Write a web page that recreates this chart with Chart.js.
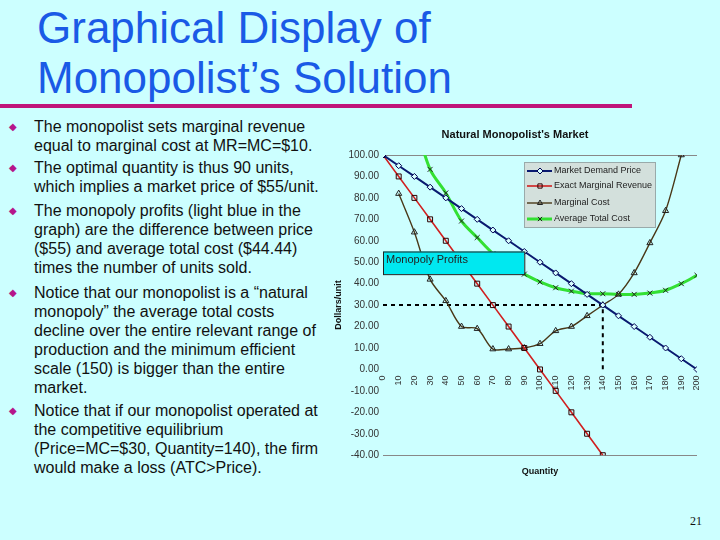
<!DOCTYPE html>
<html>
<head>
<meta charset="utf-8">
<script src="https://cdn.jsdelivr.net/npm/chart.js@4"></script>
<style>
  html, body { margin:0; padding:0; }
  body { width:720px; height:540px; background:#ccffff; position:relative; overflow:hidden; font-family:'Liberation Sans', Arial, sans-serif; }
  #title { position:absolute; left:37px; top:3px; font-size:44px; line-height:50px; color:#1a5ae6; white-space:nowrap; }
  #rule { position:absolute; left:0; top:104px; width:632px; height:4px; background:#c0147a; }
  .b { position:absolute; left:34px; font-size:16px; line-height:19px; color:#111; white-space:nowrap; }
  .d { position:absolute; left:9px; font-size:10px; line-height:10px; color:#b5168a; }
  #pg { position:absolute; left:690px; top:514px; font:12px 'Liberation Serif', serif; color:#111; }
  #chartWrap { position:absolute; left:330px; top:120px; width:372px; height:360px; }
</style>
</head>
<body>
<div id="title">Graphical Display of<br>Monopolist’s Solution</div>
<div id="rule"></div>

<div class="d" style="top:122px">◆</div>
<div class="b" style="top:117px">The monopolist sets marginal revenue<br>equal to marginal cost at MR=MC=$10.</div>
<div class="d" style="top:163px">◆</div>
<div class="b" style="top:158px">The optimal quantity is thus 90 units,<br>which implies a market price of $55/unit.</div>
<div class="d" style="top:206px">◆</div>
<div class="b" style="top:201px">The monopoly profits (light blue in the<br>graph) are the difference between price<br>($55) and average total cost ($44.44)<br>times the number of units sold.</div>
<div class="d" style="top:288px">◆</div>
<div class="b" style="top:283px">Notice that our monopolist is a “natural<br>monopoly” the average total costs<br>decline over the entire relevant range of<br>production and the minimum efficient<br>scale (150) is bigger than the entire<br>market.</div>
<div class="d" style="top:406px">◆</div>
<div class="b" style="top:401px">Notice that if our monopolist operated at<br>the competitive equilibrium<br>(Price=MC=$30, Quantity=140), the firm<br>would make a loss (ATC&gt;Price).</div>

<div id="pg">21</div>

<div id="chartWrap"><canvas id="c" width="372" height="360"></canvas></div>

<script>
// ---- data ----
const quantity = [0,10,20,30,40,50,60,70,80,90,100,110,120,130,140,150,160,170,180,190,200];
const demandPrice = [100,95,90,85,80,75,70,65,60,55,50,45,40,35,30,25,20,15,10,5,0];
const marginalRevenue = [100,90,80,70,60,50,40,30,20,10,0,-10,-20,-30,-40,null,null,null,null,null,null];
const marginalCost = [null,82,64,42,32,20,19,9.5,9.5,10,12,18,20,25,30,35,45,59,74,100,null];
const averageTotalCost = [null,null,116,93.3,82.3,69.2,61.5,54,48.5,44.44,40.8,38.1,36.5,35.3,35.3,35,35,35.6,36.9,40,43.9];
const seriesNames = ['Market Demand Price','Exact Marginal Revenue','Marginal Cost','Average Total Cost'];
const monopolyQty = 90, monopolyPrice = 55, monopolyATC = 44.44;
const compQty = 140, compPrice = 30;
const yMin = -40, yMax = 100, yStep = 10;
const xMin = 0, xMax = 200, xStep = 10;

const pairs = ys => quantity.map((q,i) => ({x:q, y:ys[i]}));

Chart.defaults.font.family = "'Liberation Sans', Arial, sans-serif";

const datasets = [
  { label: seriesNames[0], data: pairs(demandPrice), borderColor:'#0a1a70', borderWidth:2,
    pointStyle:'rectRot', pointRadius:3, pointBorderColor:'#000050', pointBackgroundColor:'#d8ffff', pointBorderWidth:1 },
  { label: seriesNames[1], data: pairs(marginalRevenue), borderColor:'#d02020', borderWidth:1.6,
    pointStyle:'rect', pointRadius:3.5, pointBorderColor:'#300000', pointBackgroundColor:'rgba(0,0,0,0)', pointBorderWidth:1 },
  { label: seriesNames[2], data: pairs(marginalCost), borderColor:'#4a3818', borderWidth:1.4, tension:0.3,
    pointStyle:'triangle', pointRadius:3.5, pointBorderColor:'#222', pointBackgroundColor:'rgba(0,0,0,0)', pointBorderWidth:1 },
  { label: seriesNames[3], data: pairs(averageTotalCost), borderColor:'#33e033', borderWidth:3, tension:0.3,
    pointStyle:'crossRot', pointRadius:3.5, pointBorderColor:'#222', pointBorderWidth:1 },
  { label: 'eq', data: [{x:xMin,y:compPrice},{x:compQty,y:compPrice},{x:compQty,y:0}],
    borderColor:'#000', borderWidth:2, borderDash:[4,4], pointRadius:0 }
];

const overlay = {
  id:'overlay',
  afterDatasetsDraw(chart) {
    const {ctx, scales:{x, y}} = chart;
    // monopoly profits box
    const x0 = x.getPixelForValue(xMin), x1 = x.getPixelForValue(monopolyQty);
    const y0 = y.getPixelForValue(monopolyPrice), y1 = y.getPixelForValue(monopolyATC);
    ctx.save();
    ctx.fillStyle = '#00e8f0';
    ctx.fillRect(x0, y0, x1-x0, y1-y0);
    ctx.strokeStyle = '#222'; ctx.lineWidth = 1;
    ctx.strokeRect(x0+0.5, y0+0.5, x1-x0, y1-y0);
    ctx.fillStyle = '#222'; ctx.font = "11px 'Liberation Sans', Arial";
    ctx.textBaseline = 'middle'; ctx.textAlign = 'left';
    ctx.fillText('Monopoly Profits', x0+3, y0+8);
    // legend box
    const lx = 194, ly = 42, lw = 131, lh = 65;
    ctx.fillStyle = '#d3e0dc';
    ctx.fillRect(lx, ly, lw, lh);
    ctx.strokeStyle = '#9aa'; ctx.strokeRect(lx+0.5, ly+0.5, lw, lh);
    const rows = [51, 66, 83, 99];
    for (let i=0;i<4;i++) {
      const ds = chart.data.datasets[i];
      const ry = rows[i];
      ctx.strokeStyle = ds.borderColor; ctx.lineWidth = ds.borderWidth; ctx.setLineDash([]);
      ctx.beginPath(); ctx.moveTo(lx+3, ry); ctx.lineTo(lx+28, ry); ctx.stroke();
      ctx.strokeStyle = ds.pointBorderColor; ctx.fillStyle = ds.pointBackgroundColor || 'rgba(0,0,0,0)';
      ctx.lineWidth = 1;
      Chart.helpers.drawPoint(ctx, {pointStyle: ds.pointStyle, radius: 3, rotation: 0, borderWidth: 1}, lx+16, ry);
      ctx.fillStyle = '#222'; ctx.font = "9px 'Liberation Sans', Arial";
      ctx.textBaseline = 'middle'; ctx.textAlign = 'left';
      ctx.fillText(ds.label, lx+30, ry);
    }
    ctx.restore();
  }
};

new Chart(document.getElementById('c'), {
  type:'line',
  data:{ datasets },
  options:{
    responsive:false, animation:false, devicePixelRatio:1,
    layout:{ padding:{ left:0, right:2, top:0, bottom:0 } },
    plugins:{
      legend:{ display:false }, tooltip:{ enabled:false },
      title:{ display:true, text:"Natural Monopolist's Market", color:'#111',
        font:{ size:11, weight:'bold' }, padding:{ top:8, bottom:13.8 } },
      subtitle:{ display:true, position:'bottom', fullSize:false, text:'Quantity', color:'#111',
        font:{ size:9, weight:'bold' }, padding:{ top:11, bottom:3 } }
    },
    scales:{
      x:{ type:'linear', min:xMin, max:xMax, position:{ y:0 },
        afterFit(s){ s.paddingLeft = 0; s.paddingRight = 0; },
        grid:{ display:false, drawTicks:false }, border:{ display:false },
        ticks:{ stepSize:xStep, autoSkip:false, minRotation:90, maxRotation:90,
          font:{ size:9 }, color:'#333', padding:6 } },
      y:{ min:yMin, max:yMax,
        afterFit(s){ s.width = 53; },
        grid:{ drawTicks:false, color: c => (c.tick && (c.tick.value===yMax || c.tick.value===yMin)) ? '#888' : 'rgba(0,0,0,0)' },
        border:{ display:false },
        ticks:{ stepSize:yStep, font:{ size:10 }, color:'#333', padding:4, callback:v => Number(v).toFixed(2) },
        title:{ display:true, text:'Dollars/unit', color:'#111', font:{ size:9, weight:'bold' }, padding:{ top:3, bottom:0 } } }
    }
  },
  plugins:[overlay]
});
</script>
</body>
</html>
